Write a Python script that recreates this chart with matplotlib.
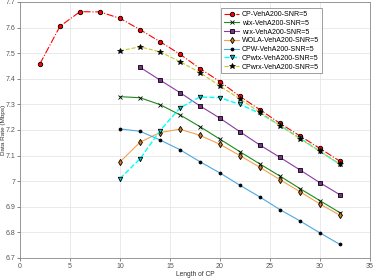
import numpy as np
import matplotlib.pyplot as plt

cp_x = [2, 4, 6, 8, 10, 12, 14, 16, 18, 20, 22, 24, 26, 28, 30, 32]
cp_y = [7.459, 7.605, 7.662, 7.661, 7.636, 7.592, 7.545, 7.496, 7.440, 7.389,
        7.331, 7.279, 7.226, 7.177, 7.128, 7.078]

x10 = [10, 12, 14, 16, 18, 20, 22, 24, 26, 28, 30, 32]
x12 = [12, 14, 16, 18, 20, 22, 24, 26, 28, 30, 32]

wtx_y = [7.330, 7.326, 7.299, 7.259, 7.213, 7.164, 7.115, 7.067, 7.020, 6.971, 6.924, 6.877]
wrx_y = [7.445, 7.395, 7.346, 7.294, 7.246, 7.193, 7.141, 7.093, 7.044, 6.994, 6.947]
wola_y = [7.075, 7.152, 7.190, 7.203, 7.179, 7.144, 7.100, 7.054, 7.006, 6.959, 6.911, 6.867]
cpw_y = [7.204, 7.195, 7.161, 7.123, 7.076, 7.032, 6.984, 6.938, 6.889, 6.845, 6.798, 6.753]
cpwtx_y = [7.010, 7.087, 7.197, 7.286, 7.329, 7.326, 7.300, 7.265, 7.218, 7.168, 7.117, 7.066]
cpwrx_y = [7.509, 7.525, 7.505, 7.467, 7.424, 7.372, 7.321, 7.269, 7.217, 7.166, 7.116, 7.066]

labels = ['CP-VehA200-SNR=5', 'wtx-VehA200-SNR=5', 'wrx-VehA200-SNR=5',
          'WOLA-VehA200-SNR=5', 'CPW-VehA200-SNR=5', 'CPwtx-VehA200-SNR=5',
          'CPwrx-VehA200-SNR=5']

plt.rcParams['font.family'] = 'Liberation Sans'
fig = plt.figure(figsize=(3.74, 2.78), dpi=100)
ax = fig.add_axes([0.0535, 0.072, 0.9355, 0.921])

ms = 3.2
ax.plot(cp_x, cp_y, '-.', color='#ff0000', lw=0.8, marker='o', ms=ms,
        mfc='#ff0000', mec='black', mew=0.6, label=labels[0])
ax.plot(x10, wtx_y, '-', color='#1a8a1a', lw=0.8, marker='x', ms=ms,
        mec='black', mew=0.6, label=labels[1])
ax.plot(x12, wrx_y, '-', color='#8a3aa0', lw=0.8, marker='s', ms=ms - 0.6,
        mfc='#7e2f8e', mec='black', mew=0.6, label=labels[2])
ax.plot(x10, wola_y, '-', color='#f5a050', lw=0.8, marker='d', ms=ms,
        mfc='#e07a10', mec='black', mew=0.6, label=labels[3])
ax.plot(x10, cpw_y, '-', color='#4aa8e0', lw=0.8, marker='.', ms=ms + 1,
        mfc='black', mec='black', mew=0.6, label=labels[4])
ax.plot(x10, cpwtx_y, '--', color='#00ffff', lw=1.0, marker='v', ms=ms,
        mfc='#00c8c8', mec='black', mew=0.6, label=labels[5])
ax.plot(x10, cpwrx_y, '--', color='#c8c820', lw=0.8, marker='*', ms=ms + 1,
        mfc='black', mec='black', mew=0.5, label=labels[6])

ax.set_xlim(0, 35)
ax.set_ylim(6.7, 7.7)
ax.set_xticks(np.arange(0, 36, 5))
ax.set_yticks(np.arange(6.7, 7.71, 0.1))
ax.set_yticklabels(['6.7', '6.8', '6.9', '7', '7.1', '7.2', '7.3', '7.4', '7.5', '7.6', '7.7'])
ax.grid(True, color='#e6e6e6', lw=0.6)
ax.set_axisbelow(True)
ax.tick_params(labelsize=5, colors='#555555', length=2, width=0.5, pad=1.5)
for s in ax.spines.values():
    s.set_color('#888888')
    s.set_linewidth(0.6)
ax.set_xlabel('Length of CP', fontsize=4.8, color='#333333', labelpad=1)
ax.set_ylabel('Data Rate (Mbps)', fontsize=4.6, color='#333333')
ax.yaxis.set_label_coords(-0.041, 0.5)

leg = ax.legend(loc='upper left', bbox_to_anchor=(0.575, 0.975), fontsize=5,
                frameon=True, fancybox=False, edgecolor='#555555',
                handlelength=2.2, handletextpad=0.4, labelspacing=0.25,
                borderpad=0.4, borderaxespad=0)
leg.get_frame().set_linewidth(0.5)

fig.savefig('out.png', dpi=100)
